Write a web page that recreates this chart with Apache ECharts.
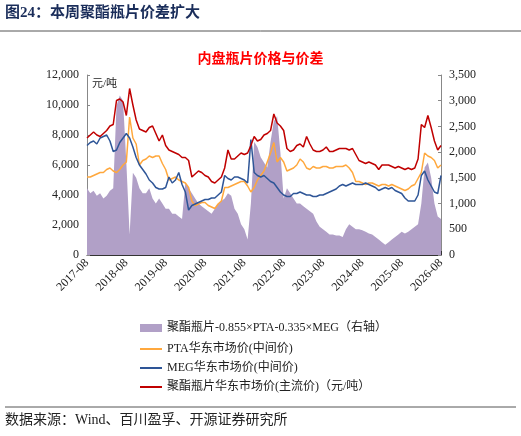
<!DOCTYPE html>
<html><head><meta charset="utf-8">
<script src="https://cdn.jsdelivr.net/npm/echarts@6/dist/echarts.min.js"></script>
<style>html,body{margin:0;padding:0;background:#fff}#c{width:521px;height:436px}</style>
</head><body><div id="c"></div>
<script>
const startYear = 2017, startMonth = 8, nMonths = 109;
const months = [];
for (let i = 0; i < nMonths; i++) { const m = startMonth - 1 + i; months.push((startYear + Math.floor(m / 12)) + '-' + String(m % 12 + 1).padStart(2, '0')); }
const chipPrice = [7800,8000,8200,8000,7900,8100,8300,8600,8700,10300,
10400,10200,9300,11100,10000,9000,8400,8300,8200,8500,
8600,8100,7600,8000,7300,7000,6900,6800,6700,6500,
6500,6300,5200,5400,5600,5500,5300,5200,4900,4800,
5000,5200,5800,7000,6400,6400,6600,6800,6700,6800,
7300,7900,7600,7700,8000,8100,8300,9400,8800,8600,
8300,7100,6900,7000,7300,7400,7200,7900,7400,7000,
6900,6900,7000,7200,6900,6900,7000,7100,7100,7100,
7000,7100,6700,6300,6200,6100,6200,6100,6000,5700,
6000,6000,6000,5900,5800,5900,5800,5700,5800,5700,
5800,6400,8700,8500,9300,8500,7600,7000,7300];
const ptaPrice = [5200,5200,5300,5400,5500,5500,5700,5800,5600,5500,
5700,6000,6200,9200,7800,7400,6000,6300,6400,6600,
6500,6600,6600,6100,5700,5000,5100,5200,5000,4900,
4800,4500,3600,3300,3400,3500,3500,3300,3200,3100,
3400,3600,4500,4500,4600,4700,4800,4900,4900,4600,
4200,4500,5000,5300,5600,6200,6800,7500,6200,6500,
6200,5600,5700,5800,6000,6400,6200,5800,5700,5900,
5800,5800,5900,5900,5800,5800,5900,5900,5900,6000,
5800,5500,4900,4900,4800,4700,4800,4800,4700,4600,
4700,4700,4600,4700,4600,4500,4400,4300,4400,4600,
4700,5100,5500,6800,6600,6500,6300,5800,6000];
const megPrice = [7300,7500,7600,7400,7800,7900,8000,7600,6900,7000,
7500,7800,8100,7800,7200,6500,6000,5700,5400,5000,
4800,4500,4400,4400,4500,5200,4800,5000,5500,4700,
4200,3000,3300,3400,3500,3600,3700,3700,3800,3800,
4000,4200,5300,5100,5000,5200,5200,5100,5000,4800,
7700,5500,5300,5200,5300,5100,4900,4800,4500,4200,
4000,3900,3900,4100,4100,4200,4100,4000,4000,3900,
3900,4000,4000,4100,4200,4300,4400,4600,4700,4600,
4700,4800,4700,4700,4700,4800,4700,4600,4500,4300,
4400,4500,4400,4500,4300,4200,4100,3800,3600,3600,
3600,4000,5300,5600,5000,4600,4200,4100,5300];
const spread = [1300,1200,1250,1150,1200,1100,1150,1250,1300,2900,
3100,3000,1800,400,1600,1500,1300,1200,1200,1300,
1100,1000,1100,1000,900,900,800,800,750,700,
1400,1300,1200,1100,1000,950,900,850,800,900,
1000,1050,1100,1200,1150,900,800,600,500,300,
1000,2200,2100,1900,1800,1700,2200,2600,2700,2000,
1100,1300,1200,1100,1000,1000,950,900,850,800,
650,550,500,450,400,400,380,380,350,500,
600,550,500,500,480,450,420,400,350,300,
250,200,250,300,350,400,450,420,450,500,
550,600,1000,1700,1800,1500,1000,750,700];
const names = ['聚酯瓶片-0.855×PTA-0.335×MEG（右轴）','PTA华东市场价(中间价)','MEG华东市场价(中间价)','聚酯瓶片华东市场价(主流价)（元/吨）'];
const serif = '"Liberation Serif","Noto Sans CJK SC",serif';
const chart = echarts.init(document.getElementById('c'));
chart.setOption({
  animation:false,
  textStyle:{fontFamily:serif},
  title:{text:'内盘瓶片价格与价差',left:'center',top:47,textStyle:{color:'#ff0000',fontSize:14,fontWeight:'bold',fontFamily:serif}},
  grid:{left:87,right:80,top:75,bottom:181},
  legend:[
    {data:[names[0]],orient:'vertical',left:135,top:317,itemWidth:22,itemHeight:8,icon:'rect',textStyle:{fontSize:12,color:'#222',fontFamily:serif}},
    {data:names.slice(1),orient:'vertical',left:135,top:338,itemGap:7,itemWidth:22,itemHeight:2,icon:'rect',textStyle:{fontSize:12,color:'#222',fontFamily:serif}}
  ],
  xAxis:{type:'category',data:months,boundaryGap:false,
    axisLine:{lineStyle:{color:'#333'}},
    axisTick:{alignWithLabel:true,interval:11,inside:true,length:4,lineStyle:{color:'#333'}},
    axisLabel:{interval:11,rotate:45,fontSize:12,color:'#222',fontFamily:serif,margin:6}},
  yAxis:[
    {type:'value',min:0,max:12000,interval:2000,splitLine:{show:false},axisLine:{show:true,lineStyle:{color:'#888'}},axisTick:{show:true,inside:true,length:3},
     axisLabel:{fontSize:12,color:'#222',fontFamily:serif,formatter:v=>v.toLocaleString('en-US')}},
    {type:'value',min:0,max:3500,interval:500,splitLine:{show:false},axisLine:{show:true,lineStyle:{color:'#888'}},axisTick:{show:true,inside:true,length:3},
     axisLabel:{fontSize:12,color:'#222',fontFamily:serif,formatter:v=>v.toLocaleString('en-US')}}
  ],
  series:[
    {name:names[0],type:'line',yAxisIndex:1,data:spread,symbol:'none',lineStyle:{width:0},areaStyle:{color:'#b1a0c7',opacity:1},itemStyle:{color:'#b1a0c7'},z:1},
    {name:names[1],type:'line',data:ptaPrice,symbol:'none',lineStyle:{width:1.5,color:'#ffa83d'},itemStyle:{color:'#ffa83d'},z:3},
    {name:names[2],type:'line',data:megPrice,symbol:'none',lineStyle:{width:1.5,color:'#2e5597'},itemStyle:{color:'#2e5597'},z:4},
    {name:names[3],type:'line',data:chipPrice,symbol:'none',lineStyle:{width:1.5,color:'#c00000'},itemStyle:{color:'#c00000'},z:5}
  ],
  graphic:[
    {type:'text',left:5,top:6,style:{text:'图24：本周聚酯瓶片价差扩大',fontSize:15,fontWeight:'bold',fill:'#1a2d5a',fontFamily:serif}},
    {type:'line',shape:{x1:0,y1:31,x2:521,y2:31},style:{stroke:'#555',lineWidth:1}},
    {type:'text',left:92,top:79,style:{text:'元/吨',fontSize:11,fill:'#222',fontFamily:serif}},
    {type:'line',shape:{x1:5,y1:407,x2:516,y2:407},style:{stroke:'#555',lineWidth:1}},
    {type:'text',left:5,top:413,style:{text:'数据来源：Wind、百川盈孚、开源证券研究所',fontSize:14,fill:'#222',fontFamily:serif}}
  ]
});
</script></body></html>
